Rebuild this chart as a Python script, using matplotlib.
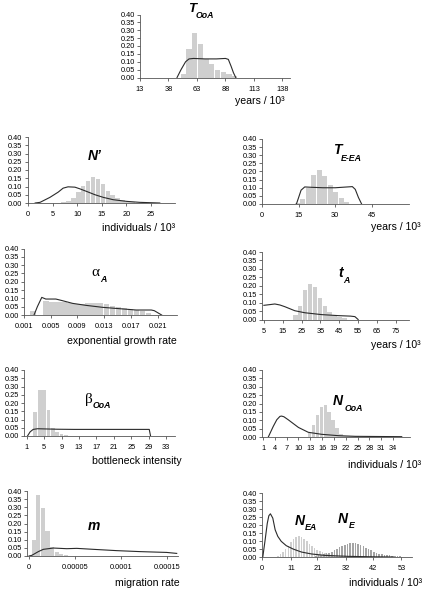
"""Posterior vs prior distributions of demographic parameters (ABC panels)."""

import matplotlib

matplotlib.use("Agg")
import matplotlib.pyplot as plt

plt.rcParams["font.family"] = ["Liberation Sans", "DejaVu Sans"]

FIG_W, FIG_H = 426, 591
BAR_COLOR = "#cfcfcf"
BAR_DARK = "#a4a4a4"
LINE_COLOR = "#2b2b2b"

# ---- data ----
T_OOA_BAR_X = [51, 56, 61, 66, 71, 76, 81, 86, 91, 96]
T_OOA_BAR_Y = [0.02, 0.18, 0.28, 0.21, 0.115, 0.085, 0.05, 0.035, 0.02, 0.01]
T_OOA_LINE_X = [45.5, 49, 53, 56, 60, 70, 80, 88, 90.5, 93, 95, 97]
T_OOA_LINE_Y = [0, 0.05, 0.1, 0.118, 0.121, 0.118, 0.118, 0.121, 0.115, 0.07, 0.03, 0]

NP_BAR_X = [7.2, 8.2, 9.2, 10.2, 11.2, 12.2, 13.2, 14.2, 15.2, 16.2, 17.2, 18.2,
            19.2, 20.2, 21.2, 22.2, 23.2, 24.2]
NP_BAR_Y = [0.008, 0.014, 0.03, 0.064, 0.106, 0.134, 0.16, 0.146, 0.118, 0.074,
            0.05, 0.028, 0.016, 0.008, 0.004, 0.003, 0.002, 0.002]
NP_LINE_X = [1.4, 2.4, 4.4, 6.1, 7.1, 8.1, 9.5, 10.5, 11.9, 13.6, 15.3, 17.3,
             20, 22.7, 26.8]
NP_LINE_Y = [0, 0.004, 0.034, 0.066, 0.09, 0.098, 0.096, 0.086, 0.07, 0.05,
             0.034, 0.02, 0.01, 0.004, 0]

TEEA_BAR_X = [14.5, 16.75, 19, 21.25, 23.5, 25.75, 28, 30.25, 32.5, 34.75]
TEEA_BAR_Y = [0.004, 0.03, 0.096, 0.18, 0.21, 0.175, 0.117, 0.072, 0.035, 0.014]
TEEA_LINE_X = [14.1, 15, 16, 17.5, 20, 25, 30, 34, 37, 38.2, 39.5, 40.8]
TEEA_LINE_Y = [0, 0.04, 0.085, 0.105, 0.103, 0.1, 0.1, 0.104, 0.107, 0.09, 0.04, 0]

ALPHA_BAR_X = [0.00232, 0.00431, 0.00521, 0.00611, 0.00701, 0.00791, 0.00881,
               0.00971, 0.01061, 0.01151, 0.01241, 0.01331, 0.01421, 0.01511,
               0.01601, 0.01691, 0.01781, 0.01871, 0.01961]
ALPHA_BAR_Y = [0.026, 0.086, 0.08, 0.08, 0.078, 0.07, 0.066, 0.066, 0.07, 0.07,
               0.074, 0.064, 0.054, 0.048, 0.042, 0.038, 0.03, 0.022, 0.014]
ALPHA_LINE_X = [0.0025, 0.003, 0.00366, 0.00426, 0.00577, 0.00677, 0.00827,
                0.01028, 0.01278, 0.01529, 0.0178, 0.02005, 0.0205, 0.0216]
ALPHA_LINE_Y = [0, 0.05, 0.106, 0.096, 0.096, 0.086, 0.07, 0.058, 0.046, 0.038,
                0.03, 0.03, 0.026, 0]

TA_BAR_X = [21.7, 24.3, 26.9, 29.5, 32.1, 34.7, 37.3, 39.9, 42.5, 45.1, 47.7]
TA_BAR_Y = [0.029, 0.08, 0.175, 0.209, 0.19, 0.13, 0.08, 0.047, 0.027, 0.017, 0.007]
TA_LINE_X = [5, 8, 10.8, 13.5, 16.1, 21.4, 26.7, 35.6, 44.4, 51, 53.3, 55]
TA_LINE_Y = [0.084, 0.088, 0.092, 0.086, 0.076, 0.052, 0.04, 0.029, 0.023, 0.02,
             0.017, 0]

BETA_BAR_X = [3, 4, 5, 6, 7, 8, 9, 10]
BETA_BAR_Y = [0.145, 0.28, 0.28, 0.155, 0.05, 0.025, 0.012, 0.006]
BETA_LINE_X = [1.2, 1.8, 2.5, 3.5, 5, 8, 12, 17, 22, 27, 29.1, 29.4]
BETA_LINE_Y = [0, 0.025, 0.04, 0.044, 0.043, 0.041, 0.04, 0.04, 0.04, 0.04, 0.04, 0]

NOOA_BAR_X = [11.8, 12.8, 13.8, 14.8, 15.8, 16.8, 17.8, 18.8, 19.8, 20.8, 21.8,
              22.8, 23.8, 24.8, 25.8, 26.8, 27.8]
NOOA_BAR_Y = [0.002, 0.022, 0.073, 0.133, 0.178, 0.19, 0.15, 0.103, 0.053, 0.016,
              0.008, 0.005, 0.004, 0.003, 0.002, 0.002, 0.001]
NOOA_LINE_X = [2.35, 3.6, 4.5, 5.3, 5.7, 6.3, 7.4, 10, 12.5, 15.9, 20.1, 24.4, 30, 36.2]
NOOA_LINE_Y = [0, 0.063, 0.103, 0.123, 0.125, 0.121, 0.103, 0.057, 0.028, 0.016,
               0.008, 0.004, 0.003, 0.002]

M_BAR_X = [0.000005, 0.00001, 0.000015, 0.00002, 0.000025, 0.00003, 0.000035, 0.00004]
M_BAR_Y = [0.098, 0.377, 0.298, 0.153, 0.057, 0.027, 0.012, 0.006]
M_LINE_X = [0, 0.000003, 0.0000101, 0.0000155, 0.0000264, 0.0000409, 0.0000517,
            0.0000698, 0.0000951, 0.0001204, 0.0001493, 0.0001602]
M_LINE_Y = [0, 0.004, 0.027, 0.041, 0.049, 0.045, 0.047, 0.041, 0.033, 0.027,
            0.022, 0.016]

NEA_BAR_X = list(range(6, 31))
NEA_BAR_Y = [0.008, 0.017, 0.03, 0.05, 0.071, 0.092, 0.112, 0.125, 0.129, 0.125,
             0.114, 0.098, 0.083, 0.067, 0.054, 0.044, 0.035, 0.029, 0.023, 0.019,
             0.015, 0.012, 0.009, 0.007, 0.005]
NE_BAR_X = [x + 0.5 for x in range(20, 53)]
NE_BAR_Y = [0.008, 0.01, 0.013, 0.017, 0.022, 0.027, 0.033, 0.042, 0.05, 0.06,
            0.069, 0.076, 0.082, 0.086, 0.087, 0.085, 0.081, 0.075, 0.067, 0.058,
            0.05, 0.042, 0.034, 0.027, 0.021, 0.017, 0.014, 0.012, 0.01, 0.008,
            0.007, 0.006, 0.005]
NE_LINE_X = [0.3, 1.2, 2, 2.6, 3.2, 4.1, 5, 6, 7.3, 9.2, 11.8, 15, 18.8, 23.9,
             32.8, 43, 50]
NE_LINE_Y = [0, 0.108, 0.21, 0.258, 0.27, 0.243, 0.17, 0.129, 0.098, 0.071, 0.05,
             0.031, 0.019, 0.01, 0.004, 0.001, 0]

Y_TICKS = [0.0, 0.05, 0.10, 0.15, 0.20, 0.25, 0.30, 0.35, 0.40]


def pix(x, y):
    return x / FIG_W, 1 - y / FIG_H


def make_panel(fig, rect, xlim, xticks, xticklabels=None):
    left, right, top, bottom = rect
    ax = fig.add_axes([left / FIG_W, 1 - bottom / FIG_H,
                       (right - left) / FIG_W, (bottom - top) / FIG_H])
    ax.set_xlim(*xlim)
    ax.set_ylim(0, 0.40)
    ax.set_yticks(Y_TICKS)
    ax.set_yticklabels([f"{v:.2f}" for v in Y_TICKS])
    ax.set_xticks(xticks)
    if xticklabels is None:
        xticklabels = [str(t) for t in xticks]
    ax.set_xticklabels(xticklabels)
    for side in ("top", "right"):
        ax.spines[side].set_visible(False)
    for side in ("left", "bottom"):
        ax.spines[side].set_linewidth(0.6)
        ax.spines[side].set_color("#555555")
    ax.tick_params(direction="out", length=2.5, width=0.6, color="#555555",
                   labelsize=5.3, pad=1.2)
    ax.tick_params(axis="x", pad=3.5)
    ax.patch.set_alpha(0)
    return ax


def bars(ax, xs, ys, width, color=BAR_COLOR):
    ax.bar(xs, ys, width=width, color=color, edgecolor="none", zorder=2)


def line(ax, xs, ys):
    ax.plot(xs, ys, color=LINE_COLOR, linewidth=0.8, zorder=3)


def title(fig, x, y, main, sub=None, sx=0, sy=0, greek=False, size=10):
    if greek:
        fig.text(*pix(x, y), main, ha="center", va="center", fontsize=size + 1,
                 family=["Liberation Serif", "DejaVu Serif"])
    else:
        fig.text(*pix(x, y), main, ha="center", va="center", fontsize=size,
                 fontweight="bold", fontstyle="italic")
    if sub:
        fig.text(*pix(sx, sy), sub, ha="center", va="center", fontsize=6.3,
                 fontweight="bold", fontstyle="italic")


def xlabel(fig, x, y, text):
    fig.text(*pix(x, y), text, ha="center", va="center", fontsize=7.6)


fig = plt.figure(figsize=(FIG_W / 100, FIG_H / 100), dpi=100)

# T_OoA
ax = make_panel(fig, (140, 290, 14.5, 77.5), (13, 144.6), [13, 38, 63, 88, 113, 138])
bars(ax, T_OOA_BAR_X, T_OOA_BAR_Y, 4.6)
line(ax, T_OOA_LINE_X, T_OOA_LINE_Y)
title(fig, 192.5, 9, "T", "OoA", 204.5, 15.5, size=9.5)
xlabel(fig, 260, 101, "years / 10³")

# N'
ax = make_panel(fig, (27.5, 175, 137, 203), (-0.16, 29.9), [0, 5, 10, 15, 20, 25])
bars(ax, NP_BAR_X, NP_BAR_Y, 0.9)
line(ax, NP_LINE_X, NP_LINE_Y)
title(fig, 95, 156, "N’", size=10)
xlabel(fig, 139, 228, "individuals / 10³")

# T_E-EA
ax = make_panel(fig, (262, 408.5, 139, 204), (0, 60), [0, 15, 30, 45])
bars(ax, TEEA_BAR_X, TEEA_BAR_Y, 2.05)
line(ax, TEEA_LINE_X, TEEA_LINE_Y)
title(fig, 337.5, 150.5, "T", "E-EA", 351, 158.5)
xlabel(fig, 396, 227, "years / 10³")

# alpha_A
ax = make_panel(fig, (24, 177, 248.5, 315), (0.001, 0.0239),
                [0.001, 0.005, 0.009, 0.013, 0.017, 0.021])
bars(ax, ALPHA_BAR_X, ALPHA_BAR_Y, 0.00082)
line(ax, ALPHA_LINE_X, ALPHA_LINE_Y)
title(fig, 95, 273, "α", "A", 103, 279, greek=True)
xlabel(fig, 122, 341, "exponential growth rate")

# t_A
ax = make_panel(fig, (262, 409, 252, 319.5), (4, 82), [5, 15, 25, 35, 45, 55, 65, 75])
bars(ax, TA_BAR_X, TA_BAR_Y, 2.35)
line(ax, TA_LINE_X, TA_LINE_Y)
title(fig, 340.5, 273, "t", "A", 346, 280.5)
xlabel(fig, 396, 345, "years / 10³")

# beta_OoA
ax = make_panel(fig, (24, 175, 370, 436), (0.4, 35), [1, 5, 9, 13, 17, 21, 25, 29, 33])
bars(ax, BETA_BAR_X, BETA_BAR_Y, 0.88)
line(ax, BETA_LINE_X, BETA_LINE_Y)
title(fig, 88.5, 400, "β", "OoA", 101.5, 405.5, greek=True)
xlabel(fig, 137, 461, "bottleneck intensity")

# N_OoA
ax = make_panel(fig, (262, 410, 370, 437), (0.75, 38.3),
                [1, 4, 7, 10, 13, 16, 19, 22, 25, 28, 31, 34])
bars(ax, NOOA_BAR_X, NOOA_BAR_Y, 0.88)
line(ax, NOOA_LINE_X, NOOA_LINE_Y)
title(fig, 338, 401, "N", "OoA", 353.5, 408.5)
xlabel(fig, 385, 465, "individuals / 10³")

# m
ax = make_panel(fig, (27, 178, 491, 556), (-0.0000022, 0.0001616),
                [0, 0.00005, 0.0001, 0.00015], ["0", "0.00005", "0.0001", "0.00015"])
bars(ax, M_BAR_X, M_BAR_Y, 0.0000045)
line(ax, M_LINE_X, M_LINE_Y)
title(fig, 93.5, 526, "m")
xlabel(fig, 147, 583, "migration rate")

# N_EA / N_E
ax = make_panel(fig, (262, 412, 493, 557), (0, 57), [0, 11, 21, 32, 42, 53])
bars(ax, NEA_BAR_X, NEA_BAR_Y, 0.6)
bars(ax, NE_BAR_X, NE_BAR_Y, 0.6, BAR_DARK)
line(ax, NE_LINE_X, NE_LINE_Y)
title(fig, 300, 521, "N", "EA", 310.5, 527.5)
title(fig, 343, 519, "N", "E", 352, 526)
xlabel(fig, 386, 583, "individuals / 10³")

fig.savefig("out.png", dpi=100)
